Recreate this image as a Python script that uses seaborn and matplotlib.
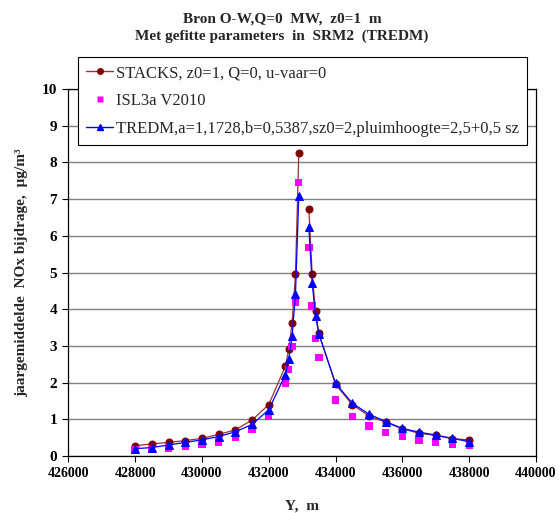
import numpy as np
import pandas as pd
import matplotlib
matplotlib.use("Agg")
import matplotlib.pyplot as plt
from matplotlib.lines import Line2D
import seaborn as sns

# ---- data ----
y_pos = [428000, 428500, 429000, 429500, 430000, 430500, 431000, 431500, 432000,
         432500, 432600, 432700, 432800, 432900,
         433200, 433300, 433400, 433500,
         434000, 434500, 435000, 435500, 436000, 436500, 437000, 437500, 438000]
stacks = [0.28, 0.33, 0.37, 0.42, 0.48, 0.59, 0.71, 0.98, 1.40,
          2.45, 2.91, 3.63, 4.95, 8.26,
          6.73, 4.95, 3.96, 3.34,
          1.95, 1.40, 1.09, 0.92, 0.74, 0.62, 0.56, 0.47, 0.44]
isl3a = [0.16, 0.18, 0.22, 0.26, 0.32, 0.38, 0.51, 0.72, 1.08,
         1.97, 2.36, 2.98, 4.18, 7.45,
         5.68, 4.09, 3.21, 2.69,
         1.53, 1.08, 0.82, 0.64, 0.53, 0.42, 0.38, 0.32, 0.28]
tredm = [0.20, 0.23, 0.30, 0.37, 0.44, 0.53, 0.66, 0.86, 1.26,
         2.22, 2.64, 3.27, 4.41, 7.08,
         6.23, 4.71, 3.82, 3.32,
         1.98, 1.44, 1.14, 0.94, 0.75, 0.65, 0.57, 0.48, 0.39]
gap_after = 432900  # the series lines are broken between the two peaks

x_ticks = [426000, 428000, 430000, 432000, 434000, 436000, 438000, 440000]
y_ticks = list(range(0, 11))

labels = ["STACKS, z0=1, Q=0, u-vaar=0",
          "ISL3a V2010",
          "TREDM,a=1,1728,b=0,5387,sz0=2,pluimhoogte=2,5+0,5 sz"]
title = "Bron O-W,Q=0  MW,  z0=1  m\nMet gefitte parameters  in  SRM2  (TREDM)"
xlabel = "Y,  m"
ylabel = "jaargemiddelde  NOx bijdrage,  µg/m³"

df = pd.DataFrame({"Y": y_pos, "stacks": stacks, "isl3a": isl3a, "tredm": tredm})
df["seg"] = (df["Y"] > gap_after).astype(int)

sns.set_style("white")
plt.rcParams["font.family"] = ["Liberation Serif", "DejaVu Serif"]

fig = plt.figure(figsize=(5.59, 5.13), dpi=100)
ax = fig.add_axes([68.3 / 559, 1 - 456 / 513, (536 - 68.3) / 559, (456 - 89) / 513])

red_line = "#993333"
red_mark = "#800000"
blue = "#0000FF"
mag = "#FF00FF"

sns.lineplot(data=df, x="Y", y="stacks", units="seg", estimator=None, ax=ax,
             color=red_line, lw=0.9, marker="o", markersize=5,
             markerfacecolor=red_mark, markeredgecolor=red_mark, zorder=3)
sns.scatterplot(data=df, x="Y", y="isl3a", ax=ax, color=mag, marker="s",
                s=28, edgecolor="none", zorder=4)
sns.lineplot(data=df, x="Y", y="tredm", units="seg", estimator=None, ax=ax,
             color=blue, lw=0.9, marker="^", markersize=6,
             markerfacecolor=blue, markeredgecolor=blue, zorder=5)

ax.set_xlim(426000, 440000)
ax.set_ylim(0, 10)
ax.set_xticks(x_ticks)
ax.set_yticks(y_ticks)
ax.set_xticklabels([str(v) for v in x_ticks], fontweight="bold", fontsize=10)
ax.set_yticklabels([str(v) for v in y_ticks], fontweight="bold", fontsize=11)
ax.tick_params(axis="both", direction="out", length=4, width=0.8, colors="black",
               bottom=True, left=True, pad=4)
ax.yaxis.grid(True, color="#808080", lw=1.0)
ax.xaxis.grid(False)
ax.set_axisbelow(True)
for sp in ax.spines.values():
    sp.set_color("black")
    sp.set_linewidth(0.9)

ax.set_xlabel(xlabel, fontweight="bold", fontsize=11, labelpad=14)
ax.set_ylabel(ylabel, fontweight="bold", fontsize=11, labelpad=10)
fig.text(282 / 559, 1 - 28 / 513, title, ha="center", va="center",
         fontweight="bold", fontsize=11, linespacing=1.4)

handles = [
    Line2D([], [], color=red_line, lw=1.0, marker="o", markersize=4,
           markerfacecolor=red_mark, markeredgecolor=red_mark),
    Line2D([], [], color=mag, lw=0, marker="s", markersize=5, markeredgecolor="none"),
    Line2D([], [], color=blue, lw=1.0, marker="^", markersize=4,
           markerfacecolor=blue, markeredgecolor=blue),
]
leg = ax.legend(handles, labels, loc="upper left",
                bbox_to_anchor=((78 - 68.3) / (536 - 68.3), 1 + (89 - 57) / (456 - 89)),
                frameon=True, fancybox=False, framealpha=1, edgecolor="black",
                fontsize=12, handlelength=1.6, handletextpad=0.15,
                labelspacing=0.7, borderpad=0.5, borderaxespad=0)
leg.get_frame().set_linewidth(0.8)

fig.savefig("out.png", dpi=100)
